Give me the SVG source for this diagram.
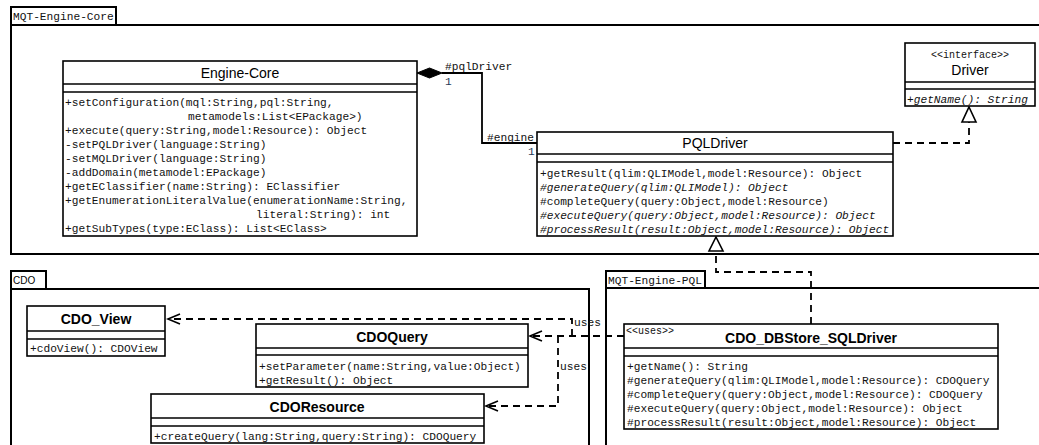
<svg xmlns="http://www.w3.org/2000/svg" width="1039" height="445" viewBox="0 0 1039 445">
<style>
.pkg{fill:none;stroke:#000;stroke-width:2}
.box{fill:#fff;stroke:#000;stroke-width:1.6}
.ln{stroke:#000;stroke-width:1.6;fill:none}
.m{font-family:"Liberation Mono",monospace;font-size:11.2px;fill:#111}
.i{font-style:italic}
.t{font-family:"Liberation Sans",Arial,sans-serif;font-size:14px;fill:#000;text-anchor:middle}
.b{font-weight:bold}
.s{font-family:"Liberation Mono",monospace;font-size:10px;fill:#111}
.one{font-family:"Liberation Mono",monospace;font-size:11.2px;fill:#2a3a5a}
.con{stroke:#000;stroke-width:1.8;fill:none}
.dash{stroke:#000;stroke-width:1.8;fill:none;stroke-dasharray:7,5}
.tri{fill:#fff;stroke:#000;stroke-width:1.6}
</style>
<rect width="1039" height="445" fill="#fff"/>
<g id="pkg-core">
<rect class="pkg" x="11" y="7" width="105" height="18"/>
<rect class="pkg" x="11" y="25" width="1040" height="229"/>
<text class="m" x="13" y="20">MQT-Engine-Core</text>
</g>
<g id="pkg-cdo">
<rect class="pkg" x="11" y="271" width="35" height="18"/>
<rect class="pkg" x="11" y="289" width="578" height="170"/>
<text x="13" y="284" font-family="'Liberation Sans',Arial,sans-serif" font-size="10">CDO</text>
</g>
<g id="pkg-pql">
<rect class="pkg" x="606" y="271" width="99" height="17"/>
<rect class="pkg" x="606" y="288" width="445" height="170"/>
<text class="m" x="608" y="284">MQT-Engine-PQL</text>
</g>
<g id="connectors">
<path class="con" d="M442,73 H482 V143 H537"/>
<path d="M417,73 L429.5,68 L442,73 L429.5,78 Z" fill="#000" stroke="#000" stroke-width="1"/>
<text class="m" x="445" y="70">#pqlDriver</text>
<text class="one" x="445" y="85">1</text>
<text class="m" x="487" y="141">#engine</text>
<text class="one" x="528" y="155">1</text>
<path class="dash" d="M893,143 H969 V122"/>
<path class="tri" d="M969,107 L976,122 L962,122 Z"/>
<path class="dash" d="M811,324 V272 H716 V251"/>
<path class="tri" d="M716,237 L723,251 L709,251 Z"/>
<path class="dash" d="M624,336 H530"/>
<path class="ln" d="M542,331 L530,336 L542,341"/>
<path class="dash" d="M572,336 V319 H168"/>
<path class="ln" d="M180,314 L168,319 L180,324"/>
<path class="dash" d="M558,336 V406 H486"/>
<path class="ln" d="M498,401 L486,406 L498,411"/>
<text class="m" x="574" y="326">uses</text>
<text class="m" x="560" y="370">uses</text>
</g>
<g id="engine-core">
<rect class="box" x="63" y="61" width="354" height="175"/>
<path class="ln" d="M63,84 H417 M63,92 H417"/>
<text class="t" x="240" y="78">Engine-Core</text>
<text class="m" x="65" y="106">+setConfiguration(mql:String,pql:String,</text>
<text class="m" x="188" y="120">metamodels:List&lt;EPackage&gt;)</text>
<text class="m" x="65" y="134">+execute(query:String,model:Resource): Object</text>
<text class="m" x="65" y="148">-setPQLDriver(language:String)</text>
<text class="m" x="65" y="162">-setMQLDriver(language:String)</text>
<text class="m" x="65" y="176">-addDomain(metamodel:EPackage)</text>
<text class="m" x="65" y="190">+getEClassifier(name:String): EClassifier</text>
<text class="m" x="65" y="204">+getEnumerationLiteralValue(enumerationName:String,</text>
<text class="m" x="256" y="218">literal:String): int</text>
<text class="m" x="65" y="232">+getSubTypes(type:EClass): List&lt;EClass&gt;</text>
</g>
<g id="pqldriver">
<rect class="box" x="537" y="132" width="356" height="104"/>
<path class="ln" d="M537,154 H893 M537,162 H893"/>
<text class="t" x="715" y="148">PQLDriver</text>
<text class="m" x="540" y="177">+getResult(qlim:QLIModel,model:Resource): Object</text>
<text class="m i" x="540" y="191">#generateQuery(qlim:QLIModel): Object</text>
<text class="m" x="540" y="205">#completeQuery(query:Object,model:Resource)</text>
<text class="m i" x="540" y="219">#executeQuery(query:Object,model:Resource): Object</text>
<text class="m i" x="540" y="233">#processResult(result:Object,model:Resource): Object</text>
</g>
<g id="driver">
<rect class="box" x="905" y="43" width="130" height="63"/>
<path class="ln" d="M905,82 H1035 M905,89 H1035"/>
<text class="s" x="970" y="58" text-anchor="middle">&lt;&lt;interface&gt;&gt;</text>
<text class="t" x="970" y="75">Driver</text>
<text class="m i" x="907" y="103">+getName(): String</text>
</g>
<g id="cdo-view">
<rect class="box" x="27" y="306" width="138" height="50"/>
<path class="ln" d="M27,331 H165 M27,339 H165"/>
<text class="t b" x="96" y="324">CDO_View</text>
<text class="m" x="30" y="352">+cdoView(): CDOView</text>
</g>
<g id="cdo-query">
<rect class="box" x="256" y="324" width="272" height="63"/>
<path class="ln" d="M256,348 H528 M256,355 H528"/>
<text class="t b" x="392" y="342">CDOQuery</text>
<text class="m" x="259" y="370">+setParameter(name:String,value:Object)</text>
<text class="m" x="259" y="384">+getResult(): Object</text>
</g>
<g id="cdo-resource">
<rect class="box" x="151" y="394" width="333" height="49"/>
<path class="ln" d="M151,418 H484 M151,426 H484"/>
<text class="t b" x="317" y="412">CDOResource</text>
<text class="m" x="154" y="440">+createQuery(lang:String,query:String): CDOQuery</text>
</g>
<g id="cdo-dbstore-sqldriver">
<rect class="box" x="624" y="324" width="374" height="105"/>
<path class="ln" d="M624,348 H998 M624,356 H998"/>
<text class="s" x="626" y="334">&lt;&lt;uses&gt;&gt;</text>
<text class="t b" x="811" y="343">CDO_DBStore_SQLDriver</text>
<text class="m" x="627" y="370">+getName(): String</text>
<text class="m" x="627" y="384">#generateQuery(qlim:QLIModel,model:Resource): CDOQuery</text>
<text class="m" x="627" y="398">#completeQuery(query:Object,model:Resource): CDOQuery</text>
<text class="m" x="627" y="412">#executeQuery(query:Object,model:Resource): Object</text>
<text class="m" x="627" y="426">#processResult(result:Object,model:Resource): Object</text>
</g>
</svg>
